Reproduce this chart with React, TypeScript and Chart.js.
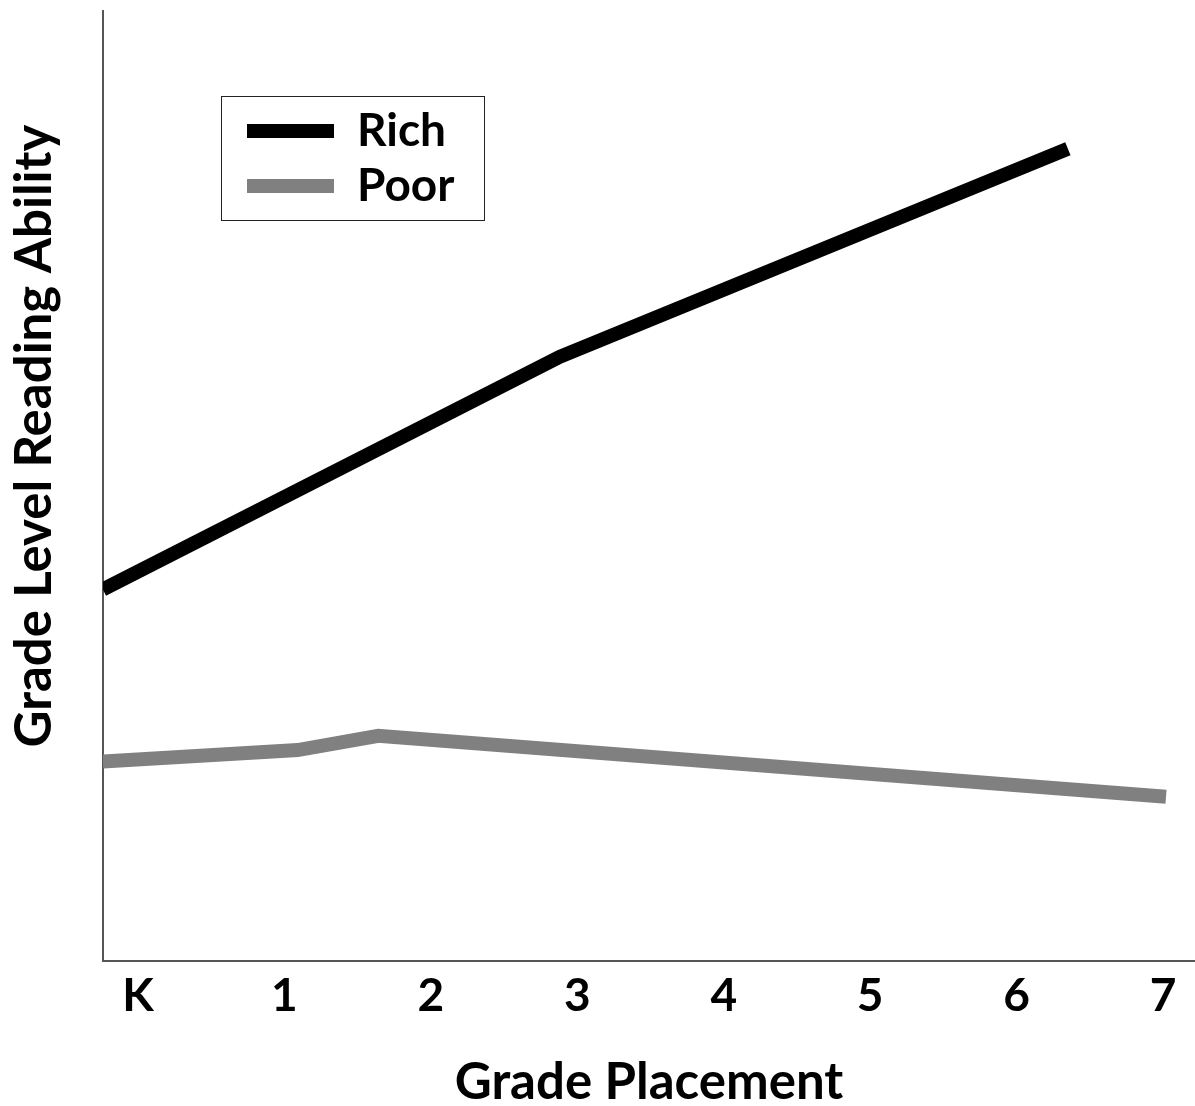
import React, { useEffect, useRef } from "react";
import { Chart, registerables } from "chart.js";

Chart.register(...registerables);

const gradeLabels = ["K", "1", "2", "3", "4", "5", "6", "7"];
const gradePositions = [0, 1, 2, 3, 4, 5, 6, 7];

const richX = [-0.24, 2.88, 6.35];
const richY = [39.1, 63.6, 85.5];
const poorX = [-0.24, 1.09, 1.64, 7.02];
const poorY = [21.0, 22.2, 23.7, 17.3];

const seriesNames = ["Rich", "Poor"];
const seriesColors = ["#000000", "#808080"];

const xTitle = "Grade Placement";
const yTitle = "Grade Level Reading Ability";

const FONT = "Lato";

const overlayPlugin = {
  id: "overlay",
  afterDraw(chart: any) {
    const ctx = chart.ctx;
    const area = chart.chartArea;
    ctx.save();
    // legend box
    const lx = 221, ly = 96, lw = 263, lh = 124;
    ctx.fillStyle = "#ffffff";
    ctx.fillRect(lx, ly, lw, lh);
    ctx.strokeStyle = "#222";
    ctx.lineWidth = 1;
    ctx.strokeRect(lx + 0.5, ly + 0.5, lw, lh);
    chart.data.datasets.forEach((ds: any, i: number) => {
      const cy = 131 + i * 55;
      ctx.strokeStyle = ds.borderColor;
      ctx.lineWidth = 14;
      ctx.lineCap = "butt";
      ctx.beginPath();
      ctx.moveTo(247, cy);
      ctx.lineTo(334, cy);
      ctx.stroke();
      ctx.fillStyle = "#000";
      ctx.font = `bold 46px ${FONT}`;
      ctx.textBaseline = "middle";
      ctx.textAlign = "left";
      ctx.fillText(ds.label, 357, cy);
    });
    // axis titles
    ctx.fillStyle = "#000";
    ctx.font = `bold 51px ${FONT}`;
    ctx.textAlign = "center";
    ctx.textBaseline = "middle";
    ctx.fillText(xTitle, (area.left + area.right) / 2, 1083);
    ctx.translate(35, 436);
    ctx.rotate(-Math.PI / 2);
    ctx.fillText(yTitle, 0, 0);
    ctx.restore();
  },
};

export default function App() {
  const ref = useRef<HTMLCanvasElement | null>(null);
  useEffect(() => {
    document.body.style.margin = "0";
    const chart = new Chart(ref.current!, {
      type: "line",
      data: {
        datasets: [
          {
            label: seriesNames[0],
            data: richX.map((x, i) => ({ x, y: richY[i] })),
            borderColor: seriesColors[0],
            backgroundColor: seriesColors[0],
            borderWidth: 14,
            pointRadius: 0,
            borderCapStyle: "butt",
            borderJoinStyle: "miter",
            tension: 0,
          },
          {
            label: seriesNames[1],
            data: poorX.map((x, i) => ({ x, y: poorY[i] })),
            borderColor: seriesColors[1],
            backgroundColor: seriesColors[1],
            borderWidth: 14,
            pointRadius: 0,
            borderCapStyle: "butt",
            borderJoinStyle: "miter",
            tension: 0,
          },
        ],
      },
      options: {
        animation: false,
        responsive: false,
        maintainAspectRatio: false,
        layout: { padding: { top: 11, right: 0, left: 0, bottom: 0 } },
        plugins: { legend: { display: false }, tooltip: { enabled: false } },
        scales: {
          x: {
            type: "linear",
            min: -0.239,
            max: 7.218,
            grid: { display: false, drawTicks: false },
            border: { display: true, color: "#555", width: 2 },
            afterBuildTicks: (scale: any) => {
              scale.ticks = gradePositions.map((v) => ({ value: v }));
            },
            afterFit: (scale: any) => {
              scale.height = 145;
            },
            ticks: {
              autoSkip: false,
              maxRotation: 0,
              padding: 8,
              color: "#000",
              font: { family: FONT, weight: "bold", size: 46 },
              callback: (v: any) => gradeLabels[gradePositions.indexOf(Number(v))] ?? "",
            },
          },
          y: {
            type: "linear",
            min: 0,
            max: 100,
            grid: { display: false, drawTicks: false },
            border: { display: true, color: "#555", width: 2 },
            ticks: { display: false },
            afterFit: (scale: any) => {
              scale.width = 103;
            },
          },
        },
      },
      plugins: [overlayPlugin],
    } as any);
    return () => chart.destroy();
  }, []);
  return (
    <div style={{ width: 1195, height: 1106 }}>
      <canvas ref={ref} width={1195} height={1106} style={{ display: "block" }} />
    </div>
  );
}
